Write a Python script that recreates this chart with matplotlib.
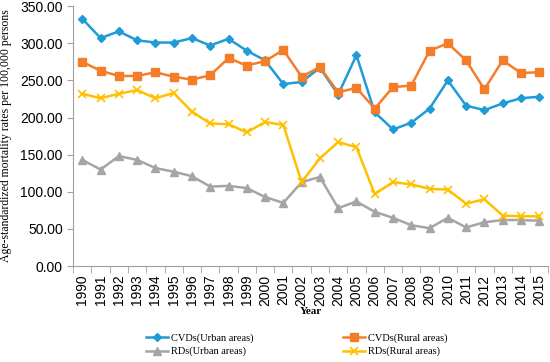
import numpy as np
import matplotlib.pyplot as plt

years = list(range(1990, 2016))
cvd_urban = [333, 307, 316, 304, 301, 301, 307, 297, 306, 290, 277, 245, 248, 267,
             231, 284, 207, 184, 193, 212, 250, 216, 210, 219, 226, 228]
cvd_rural = [275, 263, 256, 256, 261, 255, 251, 257, 280, 270, 276, 291, 255, 268,
             234, 240, 212, 241, 243, 290, 300, 277, 238, 277, 260, 261]
rd_urban = [143, 130, 148, 143, 132, 127, 121, 107, 108, 105, 93, 85, 113, 120,
            78, 87, 73, 65, 55, 51, 65, 52, 59, 62, 62, 61]
rd_rural = [232, 226, 232, 237, 226, 233, 208, 192, 191, 180, 194, 190, 113, 145,
            167, 160, 97, 113, 110, 104, 103, 84, 90, 68, 67, 67]

fig = plt.figure(figsize=(5.5, 3.62), dpi=100)
ax = fig.add_axes([0.133, 0.265, 0.864, 0.718])

x = np.arange(len(years))
h1, = ax.plot(x, cvd_urban, color='#1F9BD7', marker='D', markersize=4, lw=1.8,
              label='CVDs(Urban areas)')
h2, = ax.plot(x, cvd_rural, color='#F47D2A', marker='s', markersize=6, lw=1.8,
              label='CVDs(Rural areas)')
h3, = ax.plot(x, rd_urban, color='#A5A5A5', marker='^', markersize=6, lw=1.8,
              label='RDs(Urban areas)')
h4, = ax.plot(x, rd_rural, color='#FFC000', marker='x', markersize=6, mew=1.2, lw=1.8,
              label='RDs(Rural areas)')

ax.set_xlim(-0.5, len(years) - 0.5)
ax.set_ylim(0, 350)
ax.set_yticks(np.arange(0, 351, 50))
ax.set_yticklabels([f'{v:.2f}' for v in np.arange(0, 351, 50)],
                   family='Liberation Sans', fontsize=10)
ax.set_xticks(x)
ax.set_xticklabels([str(y) for y in years], rotation=90,
                   family='Liberation Sans', fontsize=10)
ax.set_xticks(np.arange(-0.5, len(years)), minor=True)
ax.tick_params(axis='x', which='major', length=0, pad=6)
ax.tick_params(axis='x', which='minor', length=5, color='#A0A0A0')
ax.tick_params(axis='y', length=4, color='#A0A0A0')

for s in ['top', 'right']:
    ax.spines[s].set_visible(False)
for s in ['left', 'bottom']:
    ax.spines[s].set_color('#A0A0A0')

ax.set_ylabel('Age-standardized mortality rates per 100,000 persons',
              family='Liberation Serif', fontsize=8.5, labelpad=6)
ax.set_xlabel('Year', family='Liberation Serif', fontsize=8, fontweight='bold',
              labelpad=1)

fig.legend(handles=[h1, h3, h2, h4], loc='center', bbox_to_anchor=(0.54, 0.047),
           ncol=2, prop={'family': 'Liberation Serif', 'size': 7.5}, frameon=False,
           columnspacing=8.6, handlelength=2.1, labelspacing=0.35, handletextpad=0.3)

fig.savefig('out.png', dpi=100)
